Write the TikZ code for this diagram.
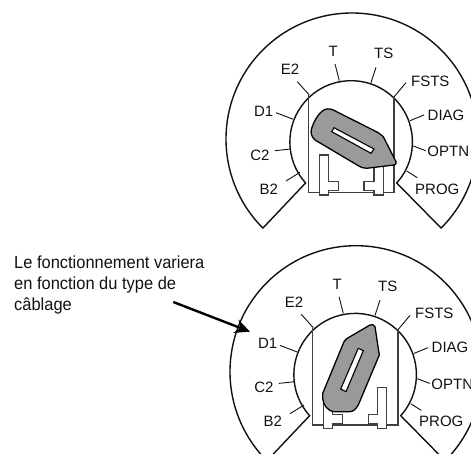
\documentclass[tikz,border=0pt]{standalone}
\usepackage{fontspec}
\setmainfont{Liberation Sans}
\newfontfamily\notefont[FakeStretch=0.94]{Liberation Sans}
\usepackage{tikz}
\usetikzlibrary{arrows.meta}
\definecolor{dlline}{HTML}{111111}
\definecolor{dlbox}{HTML}{404040}
\definecolor{dlblade}{HTML}{9A9A9A}

\begin{document}
\begin{tikzpicture}[
  x=1pt, y=1pt,
  font=\fontsize{15}{18}\selectfont,
  rim/.style={draw=dlline, line width=1.4pt, line join=miter},
  tick/.style={draw=dlline, line width=0.9pt},
  lbl/.style={text=dlline, inner sep=0pt},
  frame/.style={draw=dlbox, line width=1.1pt},
  lug/.style={draw=dlbox, fill=white, line width=1.1pt},
  blade/.style={draw=black, fill=dlblade, line width=1.3pt, line join=round},
  slot/.style={draw=black, fill=white, line width=1.1pt},
  arr/.style={-{Stealth[length=15pt, width=14pt]}, line width=2.4pt, draw=black},
]
  \path[use as bounding box, clip] (0,0) rectangle (471,454);

  % ---- the parts both dials share -------------------------------------------
  \foreach \dial/\cx/\cy in {up/351.3/312, low/355.3/79.3} {
    \begin{scope}[shift={(\cx,\cy)}]
      \draw[rim] (0.7,3) ++(225:126) arc[start angle=225, end angle=-45, radius=126]
        -- (45.4,-41) arc[start angle=-42, end angle=222, radius=61.3] -- cycle;
      \foreach \lab/\lx/\ly/\ax/\ay/\bx/\by in {
          T/-18/90.3/-16.3/78/-12/61.3,
          TS/32.4/88.7/24.7/74.7/19.7/59.3,
          E2/-61.3/72.7/-54/60.3/-42/47,
          FSTS/79/61/54.7/59.3/42.7/45,
          D1/-87.6/31/-75.3/29.3/-58/22.7,
          DIAG/94.7/27/72.7/27/58.7/21.3,
          C2/-91.3/-13/-76.3/-8.7/-60.6/-7,
          OPTN/97/-9.3/74.4/-8.7/62/-4,
          B2/-82.6/-47/-65.3/-39/-51.3/-30.3,
          PROG/86/-47/66/-35.7/55.4/-29} {
        \node[lbl] (\dial-\lab) at (\lx,\ly) {\lab};
        \draw[tick] (\ax,\ay) -- (\bx,\by);
      }
      \draw[frame] (-42.4,46.5) -- (-42.4,-50.3) -- (42.7,-50.3) -- (42.7,44.5);
    \end{scope}
  }

  % ---- upper dial ------------------------------------------------------------
  \begin{scope}[shift={(351.3,312)}]
    \draw[lug] (-32,-13) -- (-23,-13) -- (-23,-39.7) -- (-13,-39.7) -- (-13,-48.7)
      -- (-23,-48.7) -- (-23,-53) -- (-32,-53) -- cycle;
    \draw[lug] (32,-13) -- (22.7,-13) -- (22.7,-39.7) -- (12.7,-39.7) -- (12.7,-48.7)
      -- (22.7,-48.7) -- (22.7,-53) -- (32,-53) -- cycle;
    \draw[blade] (-18,32) -- (27,9.3) .. controls (30,7) and (31,6) .. (32,5.3)
      -- (44.7,-19.7) .. controls (45.5,-22) and (44,-22.8) .. (42.7,-23)
      -- (15.4,-26.3) .. controls (12,-26.5) and (9,-25) .. (7,-23.7)
      -- (-36.3,2) .. controls (-40,5) and (-41,10) .. (-39.6,13.7)
      .. controls (-37,22) and (-31,32) .. (-24.6,33)
      .. controls (-22,33.3) and (-20,33) .. cycle;
    \draw[slot] (-17.3,14.3) -- (-19.6,10.3) -- (19.7,-11.3) -- (22.7,-7) -- cycle;
  \end{scope}

  % ---- lower dial ------------------------------------------------------------
  \begin{scope}[shift={(355.3,79.3)}]
    \draw[lug] (-32,-25) -- (-22.6,-25) -- (-22.6,-39.6) -- (-12.6,-39.6) -- (-12.6,-48.6)
      -- (-22.6,-48.6) -- (-22.6,-53.6) -- (-32,-53.6) -- cycle;
    \draw[lug] (31.4,-13) -- (22.4,-13) -- (22.4,-39.6) -- (13,-39.6) -- (13,-48.6)
      -- (22.4,-48.6) -- (22.4,-53.6) -- (31.4,-53.6) -- cycle;
    \draw[blade] (14.7,49.7) .. controls (17,50.5) and (19,50) .. (19.7,48)
      -- (24,19.7) -- (3,-30.3) .. controls (0,-35) and (-2,-37) .. (-6,-37)
      -- (-22,-37) .. controls (-27,-36) and (-32,-31) .. (-32.6,-24)
      .. controls (-33,-21) .. (-32.6,-18.7) -- (-11.3,33)
      .. controls (-10,35) and (-8.5,36) .. (-7,37) -- cycle;
    \draw[slot] (3,26.4) -- (8,24) -- (-9.3,-17) -- (-14.6,-14.3) -- cycle;
  \end{scope}

  % ---- the note and its arrow ------------------------------------------------
  \node[lbl, anchor=north west, align=left, font=\notefont\fontsize{17.5}{20.6}\selectfont] (note)
    at (14,198) {Le fonctionnement variera\\en fonction du type de\\câblage};
  \coordinate (noteend) at (173.3,152);
  \coordinate (rimhit) at (250,122.3);
  \draw[arr] (noteend) -- (rimhit);
\end{tikzpicture}
\end{document}
